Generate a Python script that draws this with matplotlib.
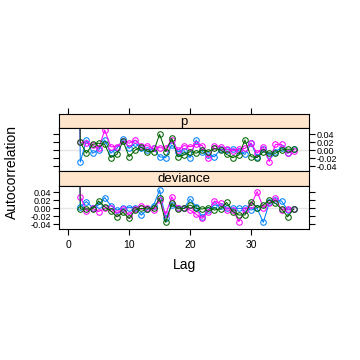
import matplotlib
matplotlib.use("Agg")
import matplotlib.pyplot as plt
import numpy as np

plt.rcParams["font.family"] = ["Liberation Sans", "DejaVu Sans"]

lags = list(range(1, 38))
panels = ["p", "deviance"]
chain_colors = ["#0080ff", "#ff00ff", "#006400"]

p_blue = [1.0, -0.030, 0.025, -0.008, 0.000, 0.025, -0.008, 0.004, 0.027, 0.004, 0.017, 0.006, 0.000, 0.004,
          -0.017, -0.019, 0.0125, -0.004, -0.002, -0.019, 0.025, -0.004, -0.0125, -0.017, 0.002, 0.000,
          0.002, -0.002, -0.011, 0.017, -0.017, 0.002, -0.0125, -0.004, 0.006, -0.008, 0.002]
p_magenta = [1.0, 0.019, 0.017, 0.0125, 0.004, 0.050, 0.008, 0.008, 0.022, 0.017, 0.025, 0.010, 0.011, 0.004,
             0.006, 0.004, 0.025, 0.000, 0.011, 0.008, 0.014, 0.011, -0.019, 0.011, 0.008, 0.002,
             -0.002, 0.002, 0.004, 0.017, -0.008, 0.008, -0.029, 0.014, 0.014, -0.008, -0.002]
p_green = [1.0, 0.019, -0.008, 0.014, 0.017, 0.014, -0.019, -0.011, 0.022, -0.017, 0.000, 0.007, -0.004, -0.004,
           0.039, -0.004, 0.029, -0.017, -0.0125, -0.004, -0.008, 0.000, -0.004, 0.004, 0.000, -0.011,
           -0.019, -0.0125, 0.025, -0.017, -0.019, -0.004, -0.008, -0.008, 0.000, 0.002, 0.002]

dev_blue = [1.0, 0.003, 0.016, 0.001, 0.0075, 0.026, 0.006, -0.005, -0.001, 0.001, 0.001, -0.018, -0.003, 0.006,
            0.045, -0.026, 0.0075, 0.001, -0.001, 0.0225, 0.003, -0.022, -0.005, 0.0075, 0.006, -0.001,
            -0.001, -0.001, -0.001, -0.005, -0.001, -0.036, 0.014, 0.020, 0.0175, -0.005, -0.003]
dev_magenta = [1.0, 0.028, -0.0075, -0.001, -0.009, -0.001, -0.001, -0.013, -0.0025, -0.0175, -0.0025, 0.006, 0.001,
               -0.005, 0.020, -0.016, 0.028, -0.001, -0.001, -0.005, -0.016, -0.026, -0.009, 0.0175, 0.0115,
               -0.005, -0.005, -0.034, -0.005, 0.0075, 0.041, 0.001, 0.0115, 0.024, -0.005, -0.0025, -0.003]
dev_green = [1.0, -0.0025, -0.0025, -0.0025, 0.0175, 0.003, -0.0075, -0.022, -0.011, -0.026, -0.005, -0.001,
             -0.0025, -0.001, 0.024, -0.036, 0.0115, -0.0025, -0.001, 0.0075, -0.001, -0.0025, 0.001, -0.005,
             -0.0025, 0.014, -0.009, -0.0175, -0.0175, 0.016, 0.001, 0.0075, 0.020, 0.0115, -0.0025, -0.022,
             -0.0025]

series = {"p": [p_blue, p_magenta, p_green],
          "deviance": [dev_blue, dev_magenta, dev_green]}

xticks = [0, 10, 20, 30]
yticks = [-0.04, -0.02, 0.00, 0.02, 0.04]
ytick_labels = ["-0.04", "-0.02", "0.00", "0.02", "0.04"]

W = H = 360
fig = plt.figure(figsize=(3.6, 3.6), dpi=100)

def fr(x0, y0, x1, y1):
    return [x0 / W, 1 - y1 / H, (x1 - x0) / W, (y1 - y0) / H]

xl = (-1.5, 39.5)
yl = (-0.0525, 0.055)
tick_kw = dict(length=4, width=0.8, labelsize=6.5, color="black", direction="out", pad=1.5)

layout = {"p": (114, 128, 171), "deviance": (171, 186, 229)}
for i, name in enumerate(panels):
    s0, p0, p1 = layout[name]
    sax = fig.add_axes(fr(59, s0, 309, p0))
    sax.set_facecolor("#ffe5cc")
    sax.set_xlim(xl)
    sax.set_ylim(0, 1)
    sax.text(0.5, 0.45, name, transform=sax.transAxes, ha="center", va="center", fontsize=9.5)
    sax.set_yticks([])
    if i == 0:
        sax.xaxis.tick_top()
        sax.set_xticks(xticks)
        sax.set_xticklabels([])
        sax.tick_params(axis="x", **tick_kw)
    else:
        sax.set_xticks([])
    for sp in sax.spines.values():
        sp.set_linewidth(0.8)

    ax = fig.add_axes(fr(59, p0, 309, p1))
    ax.set_xlim(xl)
    ax.set_ylim(yl)
    ax.axhline(0, color="#e6e6e6", lw=1.0, zorder=0)
    for vals, col in zip(series[name], chain_colors):
        ax.plot(lags, vals, color=col, lw=0.75, marker="o", markersize=4.0,
                markerfacecolor="none", markeredgecolor=col, markeredgewidth=0.75)
    ax.set_yticks(yticks)
    ax.tick_params(axis="both", **tick_kw)
    ax.yaxis.set_ticks_position("both")
    if i == 0:
        ax.set_xticks([])
        ax.tick_params(axis="y", labelleft=False, labelright=True)
    else:
        ax.set_xticks(xticks)
        ax.set_xticklabels([str(t) for t in xticks])
        ax.tick_params(axis="x", labelsize=7.5, pad=4)
        ax.tick_params(axis="y", labelleft=True, labelright=False)
        ax.set_xlabel("Lag", fontsize=10, labelpad=6)
    ax.set_yticklabels(ytick_labels)
    for sp in ax.spines.values():
        sp.set_linewidth(0.8)

fig.text(12 / W, 1 - 172 / H, "Autocorrelation", rotation=90, ha="center", va="center", fontsize=10)

fig.savefig("out.png", dpi=100)
